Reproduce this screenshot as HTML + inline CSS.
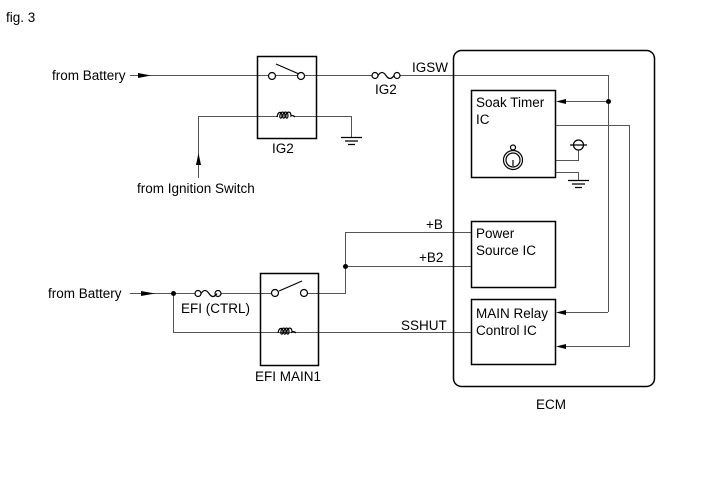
<!DOCTYPE html>
<html><head><style>
html,body{margin:0;padding:0;background:#fff;}
svg{display:block;}
text{font-family:"Liberation Sans",Arial,sans-serif;font-size:13.5px;fill:#000;}
</style></head><body>
<svg width="711" height="479" viewBox="0 0 711 479" xmlns="http://www.w3.org/2000/svg">
<g fill="none" stroke="#555" stroke-width="1">
<path d="M130 75.5H268M276 75.5H297M305 75.5H372M400 75.5H608.5V312"/>
<path d="M198.5 178V116.5H351.5V137"/>
<path d="M608 101.5H560"/>
<path d="M555 125.5H629.5V346.5H560"/>
<path d="M608 312.5H560"/>
<path d="M555 160.5H578.5V150"/>
<path d="M555 172.5H578.5V180"/>
<path d="M305 293.5H345.5V232.5H471"/>
<path d="M345 266.5H471"/>
<path d="M130 293.5H195M220 293.5H271"/>
<path d="M173.5 293V332.5H471"/>
</g>
<g fill="none" stroke="#000" stroke-width="1.5">
<rect x="257.5" y="56.5" width="59" height="82"/>
<rect x="260.5" y="273.5" width="58" height="92"/>
<rect x="471.5" y="90.5" width="84" height="87"/>
<rect x="471.5" y="221.5" width="84" height="66"/>
<rect x="471.5" y="299.5" width="84" height="65"/>
<rect x="453.5" y="50.5" width="201" height="336" rx="8"/>
</g>
<g fill="#fff" stroke="#000" stroke-width="1.2">
<circle cx="272" cy="76" r="3.5"/><circle cx="301" cy="76" r="3.5"/>
<circle cx="275" cy="293" r="3.5"/><circle cx="304" cy="293" r="3.5"/>
<circle cx="375" cy="75.5" r="3"/><circle cx="397" cy="75.5" r="3"/>
<circle cx="198" cy="293.5" r="3"/><circle cx="218" cy="293.5" r="3"/>
<circle cx="578.5" cy="145" r="5"/>
</g>
<g fill="none" stroke="#000" stroke-width="1.2">
<path d="M276 64L299 74"/><path d="M279 291L302 281"/>
<path d="M378 75.5q4 -6 8 0t8 0"/><path d="M201 293.5q4 -6 8 0t8 0"/>
<g fill="#fff"><rect x="278" y="111" width="17" height="7" stroke="none"/></g>
<path d="M277 117C278 111 282 111 282 116C282 119 279 119 280 115C281 111 285 111 285 116C285 119 282 119 283 115C284 111 288 111 288 116C288 119 285 119 286 115C287 111 291 111 291 116C292 115 294 116 295 117"/>
<path d="M278 333C279 327 283 327 283 332C283 335 280 335 281 331C282 327 286 327 286 332C286 335 283 335 284 331C285 327 289 327 289 332C289 335 286 335 287 331C288 327 292 327 292 332C293 331 295 332 296 333"/>
<path d="M570 145H587"/>
<path d="M568 180.5H589M572 184H585M575 187.5H582"/>
<path d="M341 137.5H362M345 141H358M348 144.5H355"/>
<circle cx="513" cy="160" r="9.5"/><circle cx="513" cy="160" r="7"/>
<circle cx="513" cy="147.5" r="2.5"/><path d="M513 150V150.5M513 160V166"/>
</g>
<g fill="#000" stroke="none">
<path d="M138 73L151 75.5L138 78Z"/>
<path d="M196 165L198.5 153L201 165Z"/>
<path d="M141 291L155 293.5L141 296Z"/>
<path d="M556 101.5L566 99V104Z"/>
<path d="M556 312.5L566 310V315Z"/>
<path d="M556 346.5L566 344V349Z"/>
<circle cx="608.5" cy="101.5" r="2.5"/>
<circle cx="345.5" cy="266.5" r="2.5"/>
<circle cx="173.5" cy="293.5" r="2.5"/>
</g>
<text x="6" y="22">fig. 3</text>
<text x="52" y="80">from Battery</text>
<text x="137" y="193">from Ignition Switch</text>
<text x="48" y="298">from Battery</text>
<text x="272" y="153">IG2</text>
<text x="375" y="94">IG2</text>
<text x="412" y="72">IGSW</text>
<text x="476" y="107">Soak Timer</text>
<text x="476" y="124">IC</text>
<text x="476" y="238">Power</text>
<text x="476" y="255">Source IC</text>
<text x="476" y="318">MAIN Relay</text>
<text x="476" y="335">Control IC</text>
<text x="426" y="229">+B</text>
<text x="419" y="262">+B2</text>
<text x="401" y="330">SSHUT</text>
<text x="181" y="313">EFI (CTRL)</text>
<text x="255" y="381">EFI MAIN1</text>
<text x="536" y="409">ECM</text>
</svg>
</body></html>
